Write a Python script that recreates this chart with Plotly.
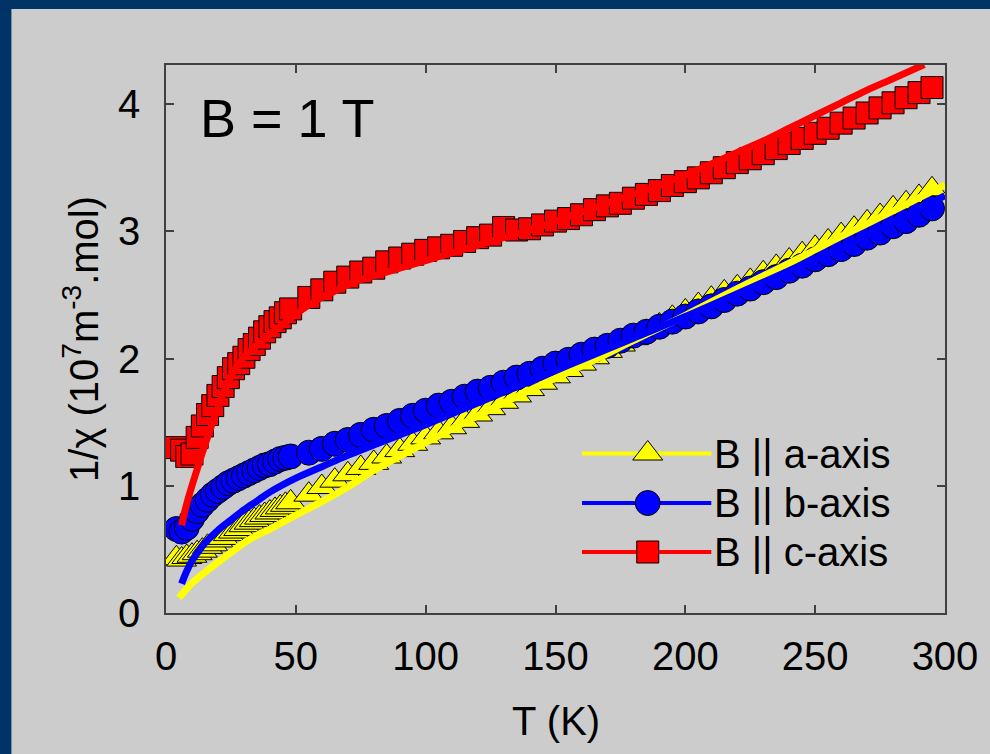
import plotly.graph_objects as go

# ---------------- data ----------------
T_data = [4, 6, 8, 10, 12, 14, 16, 18, 20, 22, 24, 26, 28, 30, 32, 34, 36, 38, 40, 42, 44, 46, 48,
          55, 60, 65, 70, 75, 80, 85, 90, 95, 100, 105, 110, 115, 120, 125, 130, 135, 140, 145, 150,
          155, 160, 165, 170, 175, 180, 185, 190, 195, 200, 205, 210, 215, 220, 225, 230, 235, 240,
          245, 250, 255, 260, 265, 270, 275, 280, 285, 290, 295]

a_axis = [0.43, 0.42, 0.44, 0.45, 0.47, 0.49, 0.52, 0.54, 0.57, 0.59, 0.62, 0.64, 0.66, 0.69, 0.71,
          0.73, 0.75, 0.77, 0.79, 0.81, 0.83, 0.85, 0.87,
          0.93, 0.99, 1.04, 1.09, 1.14, 1.18, 1.23, 1.28, 1.33, 1.38, 1.42, 1.46, 1.51, 1.56, 1.61,
          1.66, 1.71, 1.76, 1.81, 1.86, 1.91, 1.96, 2.01, 2.06, 2.11, 2.16, 2.21, 2.26, 2.32, 2.37,
          2.42, 2.47, 2.52, 2.56, 2.61, 2.67, 2.72, 2.77, 2.82, 2.87, 2.92, 2.97, 3.02, 3.07, 3.12,
          3.18, 3.22, 3.27, 3.33]

b_axis = [0.66, 0.64, 0.67, 0.74, 0.80, 0.85, 0.89, 0.93, 0.96, 0.99, 1.02, 1.04, 1.06, 1.08, 1.10,
          1.12, 1.14, 1.16, 1.17, 1.19, 1.21, 1.22, 1.23,
          1.26, 1.29, 1.33, 1.36, 1.40, 1.44, 1.47, 1.51, 1.55, 1.59, 1.63, 1.66, 1.70, 1.74, 1.77,
          1.81, 1.85, 1.88, 1.92, 1.96, 1.99, 2.03, 2.07, 2.10, 2.14, 2.18, 2.21, 2.25, 2.29, 2.33,
          2.37, 2.41, 2.46, 2.51, 2.55, 2.60, 2.64, 2.69, 2.73, 2.78, 2.82, 2.86, 2.90, 2.95, 2.99,
          3.04, 3.08, 3.13, 3.18]

c_axis = [1.30, 1.28, 1.23, 1.25, 1.38, 1.47, 1.56, 1.63, 1.71, 1.78, 1.85, 1.92, 1.96, 2.01, 2.07,
          2.11, 2.16, 2.21, 2.25, 2.29, 2.32, 2.36, 2.39,
          2.48, 2.54, 2.60, 2.64, 2.68, 2.71, 2.76, 2.79, 2.82, 2.85, 2.87, 2.89, 2.92, 2.95, 2.97,
          3.03, 3.01, 3.02, 3.05, 3.08, 3.10, 3.13, 3.17, 3.20, 3.22, 3.26, 3.29, 3.32, 3.36, 3.39,
          3.42, 3.46, 3.50, 3.54, 3.57, 3.61, 3.65, 3.69, 3.73, 3.77, 3.81, 3.85, 3.89, 3.93, 3.97,
          4.01, 4.05, 4.09, 4.13]

fit_a_T = [5, 8, 10, 12, 15, 20, 25, 30, 35, 40, 50, 60, 70, 80, 100, 120, 140, 160, 180, 200,
           220, 240, 260, 280, 300]
fit_a = [0.12, 0.19, 0.235, 0.27, 0.32, 0.40, 0.475, 0.55, 0.61, 0.66, 0.77, 0.875, 0.99, 1.12,
         1.34, 1.55, 1.75, 1.94, 2.14, 2.34, 2.55, 2.75, 2.96, 3.16, 3.365]

fit_b_T = [6, 8, 10, 12, 15, 20, 25, 30, 35, 40, 50, 60, 70, 80, 90, 100, 120, 140, 160, 180,
           200, 220, 240, 260, 280, 300]
fit_b = [0.23, 0.33, 0.41, 0.47, 0.55, 0.65, 0.73, 0.81, 0.88, 0.95, 1.06, 1.15, 1.24, 1.32, 1.40,
         1.48, 1.65, 1.82, 1.99, 2.16, 2.33, 2.51, 2.69, 2.87, 3.07, 3.28]

fit_c_T = [6, 8, 10, 12, 14, 16, 18, 20, 22, 24, 27, 30, 33, 36, 40, 45, 50, 55, 60, 65, 70, 75,
           80, 90, 100, 110, 120, 130, 140, 150, 160, 170, 180, 190, 200, 210, 220, 230, 240, 250,
           260, 270, 280, 292]
fit_c = [0.69, 0.86, 1.00, 1.13, 1.26, 1.38, 1.50, 1.61, 1.72, 1.82, 1.93, 2.01, 2.07, 2.12, 2.19,
         2.27, 2.35, 2.42, 2.48, 2.53, 2.58, 2.62, 2.65, 2.71, 2.77, 2.83, 2.89, 2.95, 3.01, 3.08,
         3.15, 3.22, 3.29, 3.36, 3.44, 3.53, 3.62, 3.71, 3.81, 3.91, 4.01, 4.11, 4.20, 4.31]

series_names = ["B || a-axis", "B || b-axis", "B || c-axis"]
x_ticks = [0, 50, 100, 150, 200, 250, 300]
y_ticks = [0, 1, 2, 3, 4]

# ---------------- styles ----------------
FONT = "Arial, Liberation Sans, sans-serif"
YELLOW, BLUE, RED = "#ffff00", "#0000ff", "#ff0000"
BG = "#cccccc"
NAVY = "#003366"
AX = "#404040"
FS = 40

fig = go.Figure()

# data markers
fig.add_trace(go.Scatter(x=T_data, y=a_axis, mode="markers", name=series_names[0],
                         marker=dict(symbol="triangle-up", size=26, color=YELLOW,
                                     line=dict(color="black", width=1)), showlegend=False))
fig.add_trace(go.Scatter(x=T_data, y=b_axis, mode="markers", name=series_names[1],
                         marker=dict(symbol="circle", size=25, color=BLUE,
                                     line=dict(color="black", width=1)), showlegend=False))
fig.add_trace(go.Scatter(x=T_data, y=c_axis, mode="markers", name=series_names[2],
                         marker=dict(symbol="square", size=22, color=RED,
                                     line=dict(color="black", width=1)), showlegend=False))
# fit lines
for xs, ys, col in [(fit_a_T, fit_a, YELLOW), (fit_b_T, fit_b, BLUE), (fit_c_T, fit_c, RED)]:
    fig.add_trace(go.Scatter(x=xs, y=ys, mode="lines", line=dict(color=col, width=7, shape="spline"),
                             showlegend=False, cliponaxis=True))

# custom legend on an overlay axis (0..1 fraction of plot area)
leg_rows = [0.291, 0.2007, 0.1113]
leg_x0, leg_x1, leg_xm, leg_tx = 0.534, 0.700, 0.6184, 0.7004
leg_cols = [YELLOW, BLUE, RED]
leg_syms = ["triangle-up", "circle", "square"]
leg_sizes = [26, 25, 22]
for yy, col, sym, sz, nm in zip(leg_rows, leg_cols, leg_syms, leg_sizes, series_names):
    fig.add_trace(go.Scatter(x=[leg_x0, leg_x1], y=[yy, yy], mode="lines", xaxis="x2", yaxis="y2",
                             line=dict(color=col, width=4), showlegend=False, cliponaxis=False,
                             hoverinfo="skip"))
    fig.add_trace(go.Scatter(x=[leg_xm], y=[yy], mode="markers", xaxis="x2", yaxis="y2",
                             marker=dict(symbol=sym, size=sz, color=col,
                                         line=dict(color="black", width=1)),
                             showlegend=False, cliponaxis=False, hoverinfo="skip"))
    fig.add_annotation(x=leg_tx, y=yy, xref="paper", yref="paper", text=nm, showarrow=False,
                       xanchor="left", yanchor="middle", font=dict(family=FONT, size=FS, color="black"))

axis_common = dict(showline=True, linecolor=AX, linewidth=1.5, mirror="allticks", ticks="inside",
                   ticklen=8, tickwidth=1.5, tickcolor=AX, showgrid=False, zeroline=False,
                   tickfont=dict(family=FONT, size=FS, color="black"))

fig.update_layout(
    width=990, height=754,
    margin=dict(l=166, r=43, t=65, b=141),
    paper_bgcolor=BG, plot_bgcolor=BG,
    showlegend=False,
    xaxis=dict(range=[0, 300], tickvals=x_ticks, ticklabelstandoff=7, **axis_common),
    yaxis=dict(range=[0, 4.307], tickvals=y_ticks, ticklabelstandoff=16, **axis_common),
    xaxis2=dict(overlaying="x", range=[0, 1], visible=False, anchor="y2"),
    yaxis2=dict(overlaying="y", range=[0, 1], visible=False, anchor="x2"),
    shapes=[
        dict(type="rect", xref="paper", yref="paper", x0=-0.3, x1=1.2, y0=1.1022, y1=1.3,
             fillcolor=NAVY, line=dict(width=0), layer="below"),
        dict(type="rect", xref="paper", yref="paper", x0=-0.3, x1=-0.19846, y0=-0.4, y1=1.3,
             fillcolor=NAVY, line=dict(width=0), layer="below"),
    ],
)

fig.add_annotation(x=0.1556, y=0.9024, xref="paper", yref="paper", text="B = 1 T", showarrow=False,
                   xanchor="center", yanchor="middle", font=dict(family=FONT, size=54, color="black"))
fig.add_annotation(x=0.5, y=-0.197, xref="paper", yref="paper", text="T (K)", showarrow=False,
                   xanchor="center", yanchor="middle", font=dict(family=FONT, size=FS, color="black"))
fig.add_annotation(x=-0.1085, y=0.501, xref="paper", yref="paper",
                   text="1/χ (10<sup>7</sup>m<sup>-3</sup>.mol)", showarrow=False, textangle=-90,
                   xanchor="center", yanchor="middle", font=dict(family=FONT, size=FS, color="black"))

fig.write_html("out.html")
